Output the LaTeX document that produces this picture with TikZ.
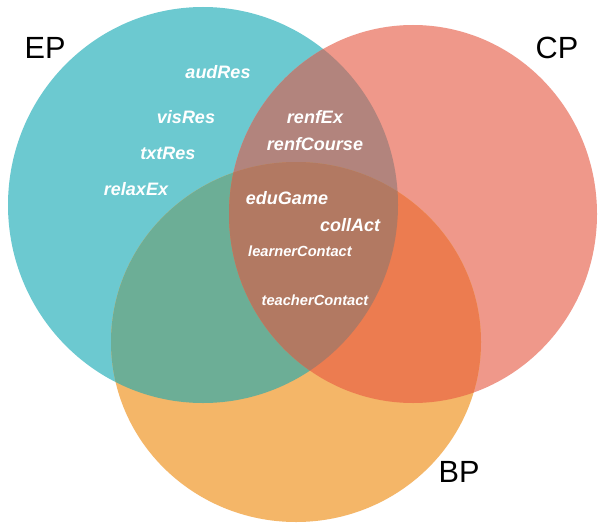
\documentclass[tikz,border=0pt]{standalone}
\usepackage{fontspec}
\setmainfont{Liberation Sans}
\begin{document}
\begin{tikzpicture}[x=0.75pt,y=-0.75pt,
  term/.style={text=white,font=\fontsize{13.5}{16}\selectfont\bfseries\itshape,inner sep=0pt},
  smallterm/.style={text=white,font=\fontsize{11}{13}\selectfont\bfseries\itshape,inner sep=0pt},
  setlabel/.style={text=black,font=\fontsize{23}{27}\selectfont,inner sep=0pt}]
\useasboundingbox (0,0) rectangle (598,524);
\fill[white] (0,0) rectangle (598,524);
% the three sets
\def\epshape{(203,205) ellipse [x radius=195, y radius=198]}
\def\cpshape{(413,214) ellipse [x radius=184, y radius=189]}
\def\bpshape{(296,342) ellipse [x radius=185, y radius=180]}
\fill[color={rgb,255:red,108;green,201;blue,208}] \epshape;
\fill[color={rgb,255:red,239;green,152;blue,138}] \cpshape;
\fill[color={rgb,255:red,244;green,182;blue,104}] \bpshape;
% pairwise overlaps
\begin{scope}
  \clip \epshape;
  \fill[color={rgb,255:red,178;green,132;blue,125}] \cpshape;
  \fill[color={rgb,255:red,108;green,174;blue,150}] \bpshape;
\end{scope}
\begin{scope}
  \clip \cpshape;
  \fill[color={rgb,255:red,236;green,124;blue,80}] \bpshape;
\end{scope}
% common overlap
\begin{scope}
  \clip \epshape;
  \clip \cpshape;
  \fill[color={rgb,255:red,178;green,121;blue,98}] \bpshape;
\end{scope}
% set names
\node[setlabel] (ep) at (45,48) {EP};
\node[setlabel] (cp) at (557,48) {CP};
\node[setlabel] (bp) at (459,472) {BP};
% members
\node[term] (audres) at (218,72) {audRes};
\node[term] (visres) at (186,117) {visRes};
\node[term] (txtres) at (168,153) {txtRes};
\node[term] (relaxex) at (136,189) {relaxEx};
\node[term] (renfex) at (315,117) {renfEx};
\node[term] (renfcourse) at (315,144) {renfCourse};
\node[term] (edugame) at (287,198) {eduGame};
\node[term] (collact) at (350,225) {collAct};
\node[smallterm] (learner) at (300,251) {learnerContact};
\node[smallterm] (teacher) at (315,300) {teacherContact};
\end{tikzpicture}
\end{document}
